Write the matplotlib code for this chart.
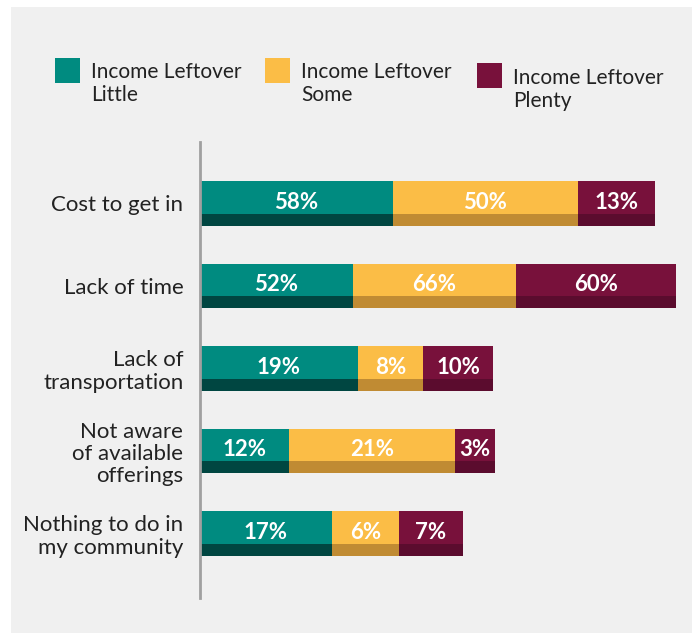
import numpy as np
import matplotlib
matplotlib.use('Agg')
import matplotlib.pyplot as plt
from matplotlib.patches import Rectangle

plt.rcParams['font.family'] = ['Lato', 'DejaVu Sans']

# DADOS
categories = ['Cost to get in', 'Lack of time', 'Lack of\ntransportation',
              'Not aware\nof available\nofferings', 'Nothing to do in\nmy community']
series = ['Income Leftover\nLittle', 'Income Leftover\nSome', 'Income Leftover\nPlenty']
# rotulos impressos nas barras
pct_little = [58, 52, 19, 12, 17]
pct_some = [50, 66, 8, 21, 6]
pct_plenty = [13, 60, 10, 3, 7]
# comprimento desenhado de cada segmento (nao proporcional aos rotulos no original)
len_little = [193, 153, 158, 89, 132]
len_some = [185, 163, 65, 166, 67]
len_plenty = [77, 160, 70, 40, 64]

COLORS = ['#008B80', '#FBBD46', '#78113B']
DARK = ['#004641', '#C08B33', '#5B0C2E']
TXT = '#222222'
BG = '#F0F0F0'

W, H = 697, 633
fig = plt.figure(figsize=(W / 100, H / 100), dpi=100, facecolor='white')
fig.patches.append(Rectangle((11 / W, 0), 681 / W, 626 / H, transform=fig.transFigure,
                             facecolor=BG, edgecolor='none', zorder=-10))

# eixo em pixels: x 200..690, y 142..598
ax = fig.add_axes([200 / W, 1 - 598 / H, 490 / W, 456 / H])
ax.set_facecolor('none')

y = np.arange(len(categories))
bar_h = 0.54
strip_h = 0.145
lens = [len_little, len_some, len_plenty]
pcts = [pct_little, pct_some, pct_plenty]
left = np.zeros(len(categories))
for k in range(3):
    w = np.array(lens[k], dtype=float)
    ax.barh(y, w, left=left, height=bar_h, color=COLORS[k], edgecolor='none')
    ax.barh(y + bar_h / 2 - strip_h / 2, w, left=left, height=strip_h,
            color=DARK[k], edgecolor='none')
    for i in range(len(categories)):
        ax.text(left[i] + w[i] / 2, y[i] - 0.01, f"{pcts[k][i]}%", ha='center',
                va='center', color='white', fontsize=16, fontweight='bold')
    left = left + w

ax.set_xlim(0, 490)
ax.set_ylim(4.784, -0.743)
ax.set_xticks([])
ax.set_yticks(y)
ax.set_yticklabels(categories, fontsize=16, color=TXT, linespacing=1.15)
ax.tick_params(axis='y', length=0, pad=12)
for s in ['top', 'right', 'bottom']:
    ax.spines[s].set_visible(False)
ax.spines['left'].set_color('#A0A0A0')
ax.spines['left'].set_linewidth(2)

# LEGENDA
leg_pos = [(55, 58, 91, 62), (265, 58, 301, 62), (477, 63, 513, 68)]
for k, (sx, sy, tx, ty) in enumerate(leg_pos):
    fig.patches.append(Rectangle((sx / W, 1 - (sy + 25) / H), 25 / W, 25 / H,
                                 transform=fig.transFigure, facecolor=COLORS[k],
                                 edgecolor='none'))
    fig.text(tx / W, 1 - ty / H, series[k], ha='left', va='top', fontsize=15,
             color=TXT, linespacing=1.2)

fig.savefig('out.png', dpi=100, facecolor='white')
